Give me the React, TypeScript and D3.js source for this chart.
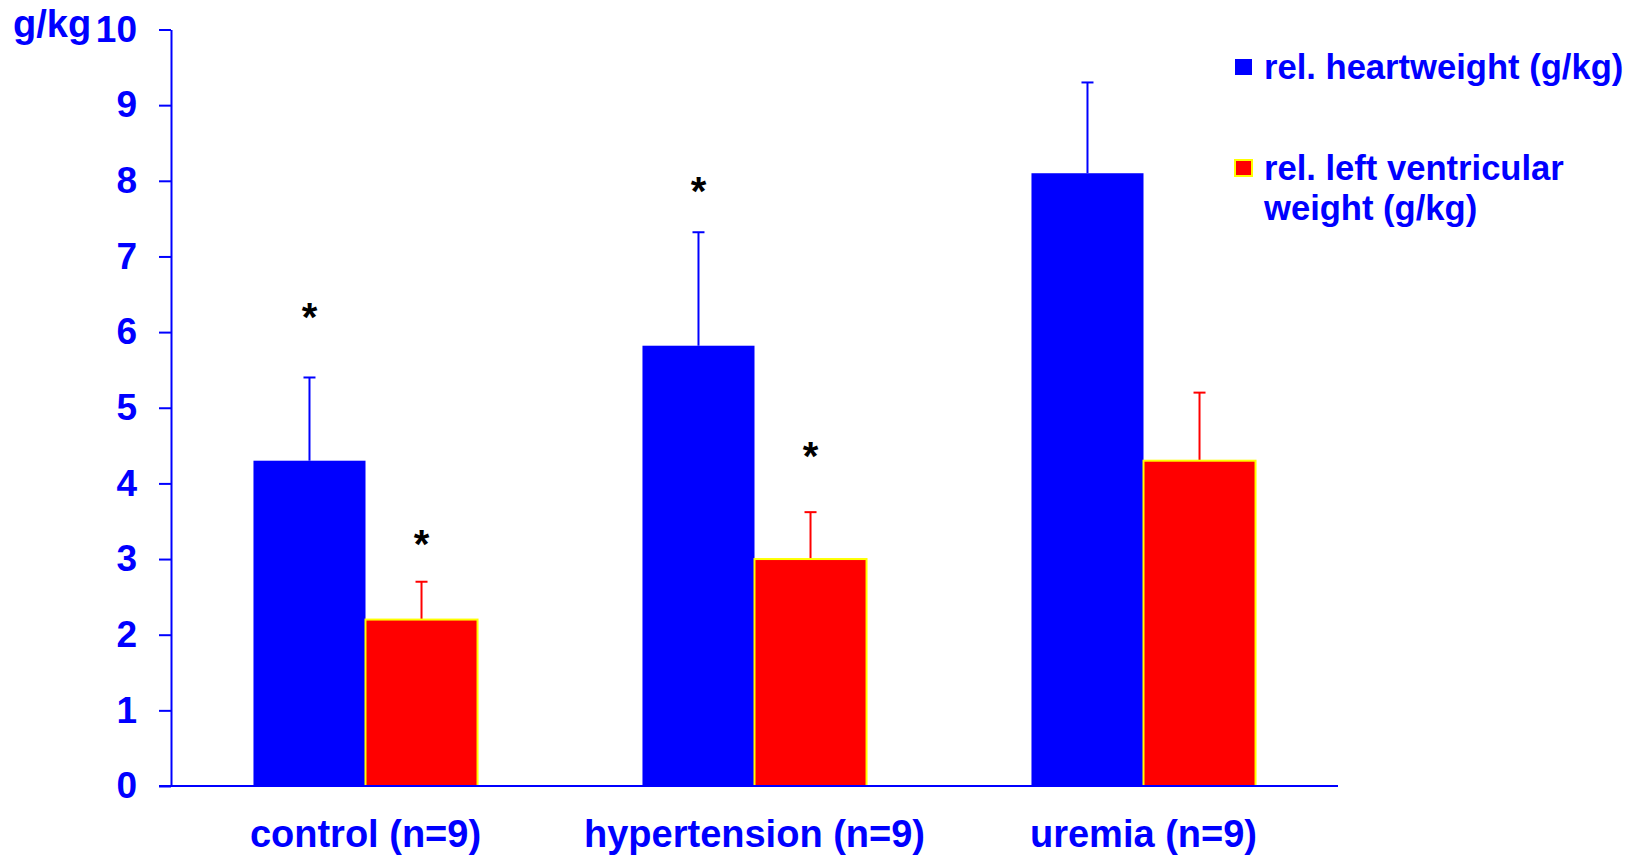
import React, { useRef, useEffect } from "react";
import * as d3 from "d3";

// groups and series
const groups = ["control (n=9)", "hypertension (n=9)", "uremia (n=9)"];
const seriesKeys = ["heart", "lv"];
const seriesNames = ["rel. heartweight (g/kg)", "rel. left ventricular weight (g/kg)"];

// means and SD
const heartMean = [4.3, 5.82, 8.1];
const heartSd = [1.1, 1.5, 1.2];
const lvMean = [2.2, 3.0, 4.3];
const lvSd = [0.5, 0.62, 0.9];

// where the significance stars sit (value units), null = no star
const heartStar = [6.25, 7.92, null];
const lvStar = [3.25, 4.42, null];

const yTicks = [0, 1, 2, 3, 4, 5, 6, 7, 8, 9, 10];

const BLUE = "#0000ff";
const RED = "#ff0000";
const YELLOW = "#ffff00";
const FONT = "'Liberation Sans', Arial, Helvetica, sans-serif";

export default function App() {
   const svgRef = useRef<SVGSVGElement | null>(null);

   useEffect(() => {
      const w = 1639;
      const h = 857;
      const svg = d3.select(svgRef.current).attr("width", w).attr("height", h);
      svg.selectAll("*").remove();

      const left = 171;
      const right = 1338;
      const bottom = 786;
      const top = 29.5;

      // scales
      const x0 = d3
         .scaleBand()
         .domain(groups)
         .range([left, right])
         .paddingInner(0.424)
         .paddingOuter(0.212);
      const x1 = d3.scaleBand().domain(seriesKeys).range([0, x0.bandwidth()]).padding(0);
      const y = d3.scaleLinear().domain([0, 10]).range([bottom, top]);

      const rows = groups.map((g, i) => ({
         group: g,
         vals: [
            { key: "heart", mean: heartMean[i], sd: heartSd[i], star: heartStar[i], color: BLUE },
            { key: "lv", mean: lvMean[i], sd: lvSd[i], star: lvStar[i], color: RED },
         ],
      }));

      // bars
      const g = svg
         .selectAll(".grp")
         .data(rows)
         .join("g")
         .attr("transform", (d) => `translate(${x0(d.group)},0)`);

      // error bars (drawn first so the bar covers the lower end)
      const err = g.selectAll(".err").data((d) => d.vals).join("g");
      err.append("line")
         .attr("x1", (d) => x1(d.key)! + x1.bandwidth() / 2)
         .attr("x2", (d) => x1(d.key)! + x1.bandwidth() / 2)
         .attr("y1", (d) => y(d.mean))
         .attr("y2", (d) => y(d.mean + d.sd))
         .attr("stroke", (d) => d.color)
         .attr("stroke-width", 2);
      err.append("line")
         .attr("x1", (d) => x1(d.key)! + x1.bandwidth() / 2 - 6)
         .attr("x2", (d) => x1(d.key)! + x1.bandwidth() / 2 + 6)
         .attr("y1", (d) => y(d.mean + d.sd))
         .attr("y2", (d) => y(d.mean + d.sd))
         .attr("stroke", (d) => d.color)
         .attr("stroke-width", 2);

      g.selectAll(".bar")
         .data((d) => d.vals)
         .join("rect")
         .attr("x", (d) => x1(d.key)!)
         .attr("y", (d) => y(d.mean))
         .attr("width", x1.bandwidth())
         .attr("height", (d) => bottom - y(d.mean))
         .attr("fill", (d) => d.color)
         .attr("stroke", (d) => (d.key === "lv" ? YELLOW : "none"))
         .attr("stroke-width", 2);

      // stars
      g.selectAll(".star")
         .data((d) => d.vals.filter((v) => v.star != null))
         .join("text")
         .attr("x", (d) => x1(d.key)! + x1.bandwidth() / 2)
         .attr("y", (d) => y(d.star as number) + 18)
         .attr("text-anchor", "middle")
         .attr("font-family", FONT)
         .attr("font-weight", "bold")
         .attr("font-size", 40)
         .attr("fill", "#000")
         .text("*");

      // y axis
      const yAxis = d3
         .axisLeft(y)
         .tickValues(yTicks)
         .tickSize(12)
         .tickSizeOuter(0)
         .tickPadding(22)
         .tickFormat(d3.format("d"));
      const ya = svg.append("g").attr("transform", `translate(${left},0)`).call(yAxis);
      ya.select(".domain").attr("stroke", BLUE).attr("stroke-width", 2);
      ya.selectAll(".tick line").attr("stroke", BLUE).attr("stroke-width", 2);
      ya.selectAll(".tick text")
         .attr("fill", BLUE)
         .attr("font-family", FONT)
         .attr("font-weight", "bold")
         .attr("font-size", 37);

      // baseline
      svg.append("line")
         .attr("x1", left - 12)
         .attr("x2", right)
         .attr("y1", bottom)
         .attr("y2", bottom)
         .attr("stroke", BLUE)
         .attr("stroke-width", 2);

      // unit label
      svg.append("text")
         .attr("x", 13)
         .attr("y", 37)
         .attr("fill", BLUE)
         .attr("font-family", FONT)
         .attr("font-weight", "bold")
         .attr("font-size", 38)
         .text("g/kg");

      // category labels
      svg.selectAll(".cat")
         .data(groups)
         .join("text")
         .attr("x", (d) => x0(d)! + x0.bandwidth() / 2)
         .attr("y", 847)
         .attr("text-anchor", "middle")
         .attr("fill", BLUE)
         .attr("font-family", FONT)
         .attr("font-weight", "bold")
         .attr("font-size", 38)
         .text((d) => d);

      // legend
      const legendLines = [["rel. heartweight (g/kg)"], ["rel. left ventricular", "weight (g/kg)"]];
      const legendTop = [79, 180];
      const lg = svg
         .selectAll(".leg")
         .data(seriesNames)
         .join("g")
         .attr("transform", (d, i) => `translate(1234,${legendTop[i]})`);
      lg.append("rect")
         .attr("x", 1)
         .attr("y", -20)
         .attr("width", 17)
         .attr("height", 16)
         .attr("fill", (d, i) => (i === 0 ? BLUE : RED))
         .attr("stroke", (d, i) => (i === 0 ? "none" : YELLOW))
         .attr("stroke-width", 2);
      lg.each(function (d, i) {
         d3.select(this)
            .selectAll("text")
            .data(legendLines[i])
            .join("text")
            .attr("x", 30)
            .attr("y", (t, j) => j * 40)
            .attr("fill", BLUE)
            .attr("font-family", FONT)
            .attr("font-weight", "bold")
            .attr("font-size", 34.6)
            .text((t) => t);
      });
   }, []);

   return (
      <div style={{ position: "absolute", left: 0, top: 0 }}>
         <svg ref={svgRef} style={{ display: "block", background: "#fff" }}></svg>
      </div>
   );
}
